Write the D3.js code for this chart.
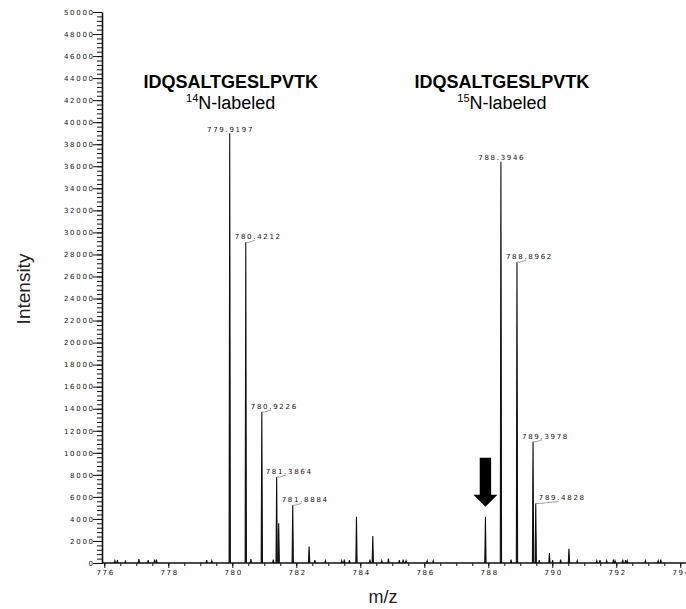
<!DOCTYPE html>
<html>
<head>
<meta charset="utf-8">
<script src="https://cdn.jsdelivr.net/npm/d3@7"></script>
<style>
  html, body { margin: 0; padding: 0; background: #fff; }
  svg { display: block; }
</style>
</head>
<body>
<svg id="chart" width="686" height="609"></svg>
<script>
// ---- data ----
const peakMz = [
  776.33, 776.41, 776.66, 777.08, 777.37, 777.57, 777.63, 779.20, 779.36,
  779.9197, 780.4212, 780.58, 780.9226, 781.28, 781.3864, 781.45, 781.8884,
  782.40, 782.58, 782.91, 783.42, 783.50, 783.66, 783.88, 784.30, 784.39,
  784.67, 784.88, 785.22, 785.34, 785.43, 786.09, 786.28,
  787.91, 788.3946, 788.71, 788.8962, 789.3978, 789.4828, 789.59, 789.91,
  790.01, 790.26, 790.52, 790.78, 791.39, 791.49, 791.70, 791.91, 791.96,
  792.20, 792.29, 792.34, 792.91, 793.31, 793.39
];
const peakIntensity = [
  200, 250, 150, 350, 250, 300, 300, 250, 200,
  39000, 29100, 350, 13700, 300, 7800, 3600, 5250,
  1500, 250, 200, 200, 300, 250, 4200, 300, 2450,
  200, 400, 250, 300, 200, 200, 200,
  4200, 36400, 300, 27300, 11000, 5400, 250, 900,
  250, 300, 1300, 200, 200, 250, 200, 300, 200,
  300, 250, 200, 200, 200, 300
];
const peakLabels = ["779.9197", "780.4212", "780.9226", "781.3864", "781.8884",
                    "788.3946", "788.8962", "789.3978", "789.4828"];
const groupTitles = ["IDQSALTGESLPVTK", "IDQSALTGESLPVTK"];
const groupIsotopes = ["14", "15"];
const groupCenterMz = [779.9197, 788.3946];
const arrowMz = 787.91;
const yTicks = d3.range(0, 50001, 2000);
const yMinorTicks = d3.range(0, 50001, 400);
const xTicks = d3.range(776, 795, 2);
const xMinorTicks = d3.range(776, 794.01, 0.5);

// ---- layout ----
const svg = d3.select("#chart");
const x = d3.scaleLinear().domain([776, 794]).range([104.3, 680.3]);
const y = d3.scaleLinear().domain([0, 50000]).range([563, 12]);
const axisX0 = 102;
const smallFont = "DejaVu Sans, Verdana, sans-serif";
const smallSize = "7px";
const ls = 1.7;

// y axis
const yMinor = svg.append("g").attr("transform", `translate(${axisX0},0)`)
  .call(d3.axisLeft(y).tickValues(yMinorTicks).tickSize(5).tickFormat(""));
yMinor.select(".domain").remove();
yMinor.selectAll("line").attr("stroke", "#111");
const yAx = svg.append("g").attr("transform", `translate(${axisX0},0)`)
  .call(d3.axisLeft(y).tickValues(yTicks).tickSize(9).tickSizeOuter(0)
        .tickPadding(0).tickFormat(d3.format("d")));
yAx.select(".domain").attr("stroke", "#111").attr("stroke-width", 1.6);
yAx.selectAll("line").attr("stroke", "#111");
yAx.selectAll("text")
  .attr("font-family", smallFont).attr("font-size", smallSize)
  .attr("letter-spacing", ls + "px").attr("dx", ls).attr("fill", "#111");

// x axis
const xMinor = svg.append("g").attr("transform", `translate(0,${y(0)})`)
  .call(d3.axisBottom(x).tickValues(xMinorTicks).tickSize(3).tickFormat(""));
xMinor.select(".domain").remove();
xMinor.selectAll("line").attr("stroke", "#111");
const xAx = svg.append("g").attr("transform", `translate(0,${y(0)})`)
  .call(d3.axisBottom(x).tickValues(xTicks).tickSize(5).tickPadding(2).tickFormat(d3.format("d")));
xAx.select(".domain").remove();
xAx.selectAll("line").attr("stroke", "#111");
xAx.selectAll("text")
  .attr("font-family", smallFont).attr("font-size", smallSize)
  .attr("letter-spacing", ls + "px").attr("dx", ls / 2).attr("fill", "#111");
svg.append("line")
  .attr("x1", axisX0).attr("x2", 686)
  .attr("y1", y(0)).attr("y2", y(0))
  .attr("stroke", "#111").attr("stroke-width", 1.6);

// peaks
const halfW = 0.02;
const peaks = peakMz.map((m, i) => ({ mz: m, h: peakIntensity[i] }));
const line = d3.line().x(d => x(d[0])).y(d => y(d[1]));
svg.append("g").selectAll("path").data(peaks).join("path")
  .attr("d", d => line([[d.mz - halfW, 0], [d.mz, d.h], [d.mz + halfW, 0]]))
  .attr("fill", "#111").attr("stroke", "#111").attr("stroke-width", 1.1)
  .attr("stroke-linejoin", "miter");

// peak labels
const lab = svg.append("g");
peakLabels.forEach(t => {
  const m = +t;
  const p = peaks.find(d => Math.abs(d.mz - m) < 1e-6);
  const px = x(p.mz), py = y(p.h);
  if (groupCenterMz.some(c => Math.abs(c - m) < 1e-6)) {
    lab.append("text").attr("x", px + ls / 2).attr("y", py - 1.5)
      .attr("text-anchor", "middle").text(t);
  } else {
    const off = (t === "789.4828") ? 3 : -11;
    const left = px + off;
    lab.append("text").attr("x", left).attr("y", py - 3).text(t);
    lab.append("path")
      .attr("d", `M${px},${py}L${px + 3},${py}L${left + 20},${py - 2}`)
      .attr("fill", "none").attr("stroke", "#888").attr("stroke-width", 0.8);
  }
});
lab.selectAll("text")
  .attr("font-family", smallFont).attr("font-size", smallSize)
  .attr("letter-spacing", ls + "px").attr("fill", "#111");

// group titles
groupTitles.forEach((t, i) => {
  const cx = x(groupCenterMz[i]) + 1;
  svg.append("text").attr("x", cx).attr("y", 88).attr("text-anchor", "middle")
    .attr("font-family", "Liberation Sans, Arial, sans-serif")
    .attr("font-weight", "bold").attr("font-size", "18px").attr("fill", "#000")
    .text(t);
  const sub = svg.append("text").attr("x", cx).attr("y", 109).attr("text-anchor", "middle")
    .attr("font-family", "Liberation Sans, Arial, sans-serif")
    .attr("font-size", "18px").attr("fill", "#000");
  sub.append("tspan").attr("font-size", "11px").attr("dy", -7).text(groupIsotopes[i]);
  sub.append("tspan").attr("dy", 7).text("N-labeled");
});

// arrow
const ap = peaks.find(d => Math.abs(d.mz - arrowMz) < 1e-6);
const ax = x(ap.mz), tipY = y(ap.h) - 10;
svg.append("path")
  .attr("d", `M${ax},${tipY} L${ax - 12},${tipY - 12} L${ax - 5.7},${tipY - 12}
              L${ax - 5.7},${tipY - 49} L${ax + 5.7},${tipY - 49} L${ax + 5.7},${tipY - 12}
              L${ax + 12},${tipY - 12} Z`)
  .attr("fill", "#000");

// axis titles
svg.append("text")
  .attr("transform", `translate(30,289) rotate(-90)`)
  .attr("text-anchor", "middle")
  .attr("font-family", "Liberation Sans, Arial, sans-serif")
  .attr("font-size", "19px").attr("fill", "#222").text("Intensity");
svg.append("text")
  .attr("x", 383).attr("y", 603).attr("text-anchor", "middle")
  .attr("font-family", "Liberation Sans, Arial, sans-serif")
  .attr("font-size", "18px").attr("fill", "#222").text("m/z");
</script>
</body>
</html>
